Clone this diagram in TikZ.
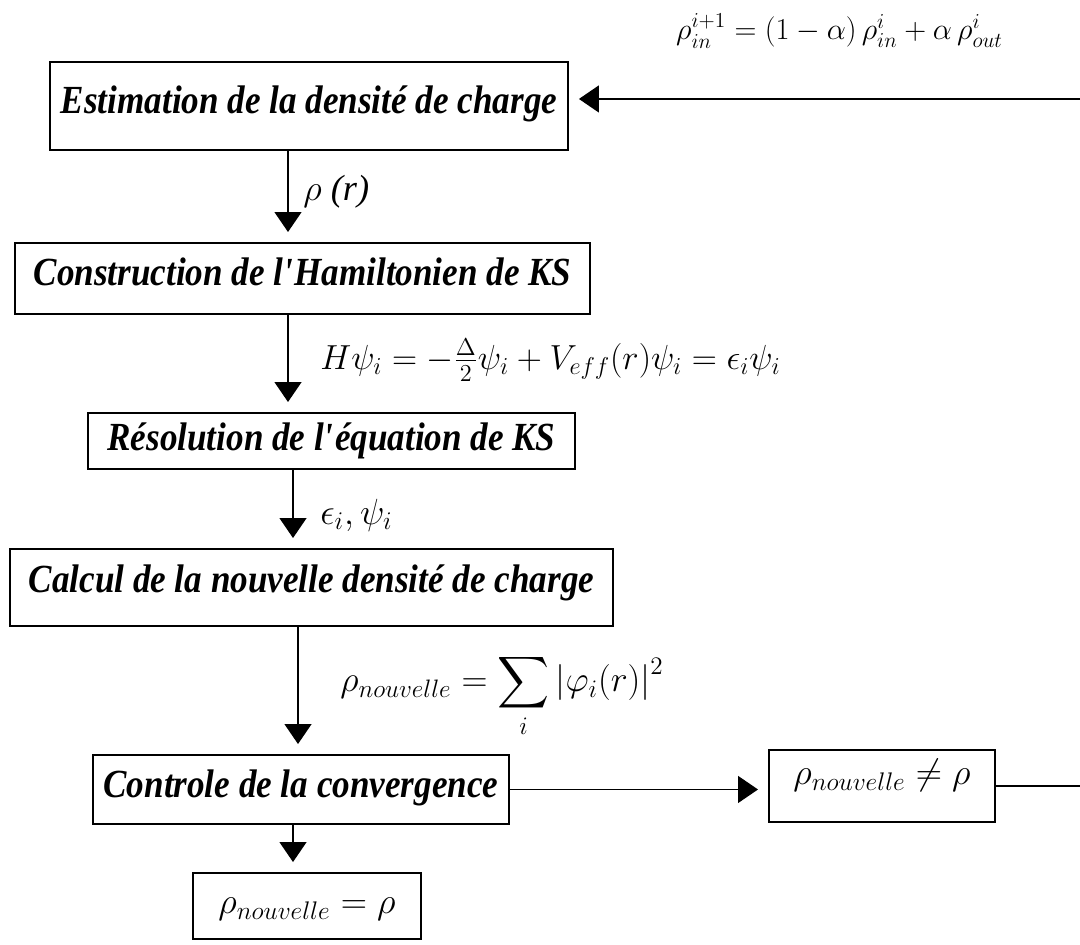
\RequirePackage{fix-cm}
\documentclass[tikz,border=0pt]{standalone}
\usepackage{amsmath,amssymb}
\usepackage{fontspec}
\setmainfont{Liberation Serif}
\newfontfamily\stepfont{Liberation Serif}[FakeStretch=0.88]
\usetikzlibrary{positioning,arrows.meta,calc}

\begin{document}
\begin{tikzpicture}[
  box/.style={rectangle,draw,line width=1.1pt,inner xsep=0pt,inner ysep=0pt,align=center,anchor=north west,font=\stepfont\fontsize{22.7}{26}\selectfont\bfseries\itshape},
  arrow/.style={-{Triangle[length=0.4cm,width=0.54cm]},line width=0.8pt,shorten >=0.2cm},
  steplabel/.style={font=\fontsize{20.7}{24}\selectfont,inner sep=0pt,anchor=west},
]
\useasboundingbox (0,0) rectangle (21.6,-18.88);
\clip (0,0) rectangle (21.6,-18.88);

% === Cycle auto-coherent ===
\node[box,minimum width=10.36cm,text height=1.04cm,text depth=0.72cm] (estim) at (0.98,-1.22) {Estimation de la densité de charge};
\node[box,minimum width=11.5cm,text height=0.86cm,text depth=0.56cm] (constr) at (0.28,-4.84) {Construction de l\textquotesingle Hamiltonien de KS};
\node[box,minimum width=9.74cm,text height=0.76cm,text depth=0.36cm] (resol) at (1.74,-8.24) {Résolution de l\textquotesingle équation de KS};
\node[box,minimum width=12.06cm,text height=0.88cm,text depth=0.66cm] (calcul) at (0.18,-10.96) {Calcul de la nouvelle densité de charge};
\node[box,minimum width=8.32cm,text height=0.86cm,text depth=0.52cm] (ctrl) at (1.84,-15.08) {Controle de la convergence};

% Tests de convergence
\node[box,font=\fontsize{20.7}{24}\selectfont,minimum width=4.52cm,text height=0.70cm,text depth=0.74cm] (neq) at (15.36,-14.98) {$\rho_{nouvelle} \neq \rho$};
\node[box,font=\fontsize{20.7}{24}\selectfont,minimum width=4.56cm,text height=0.82cm,text depth=0.5cm] (eq) at (3.84,-17.44) {$\rho_{nouvelle} = \rho$};

% Fleches verticales
\coordinate (xa) at (5.76,0);
\coordinate (xb) at (5.86,0);
\coordinate (xc) at (5.96,0);
\draw[arrow] (xa |- estim.south) -- (xa |- constr.north);
\draw[arrow] (xa |- constr.south) -- (xa |- resol.north);
\draw[arrow] (xb |- resol.south) -- (xb |- calcul.north);
\draw[arrow] (xc |- calcul.south) -- (xc |- ctrl.north);
\draw[arrow] (xb |- ctrl.south) -- (xb |- eq.north);

% Etiquettes des fleches
\node[steplabel] (lrho) at (6.06,-3.84) {\itshape$\rho$ (r)};
\node[steplabel,font=\fontsize{19.8}{23}\selectfont] (lham) at (6.40,-7.20) {$H\psi_i = -\frac{\Delta}{2}\psi_i + V_{eff}(r)\psi_i = \epsilon_i\psi_i$};
\node[steplabel] (leps) at (6.40,-10.30) {$\epsilon_i,\psi_i$};
\node[steplabel,font=\fontsize{20.5}{24}\selectfont] (lsum) at (6.80,-13.92) {$\displaystyle \rho_{nouvelle} = \sum_i \left|\varphi_i(r)\right|^2$};

% Boucle de retour
\draw[arrow] (ctrl.east) -- (ctrl.east -| neq.west);
\draw[arrow] (neq.east) -- ++(2.5,0) |- ($(estim.east)+(0,0.14)$);
\node[font=\fontsize{17.3}{20}\selectfont] (mix) at (16.79,-0.62) {$\rho_{in}^{i+1} = (1-\alpha)\,\rho_{in}^{i} + \alpha\,\rho_{out}^{i}$};

\end{tikzpicture}
\end{document}
